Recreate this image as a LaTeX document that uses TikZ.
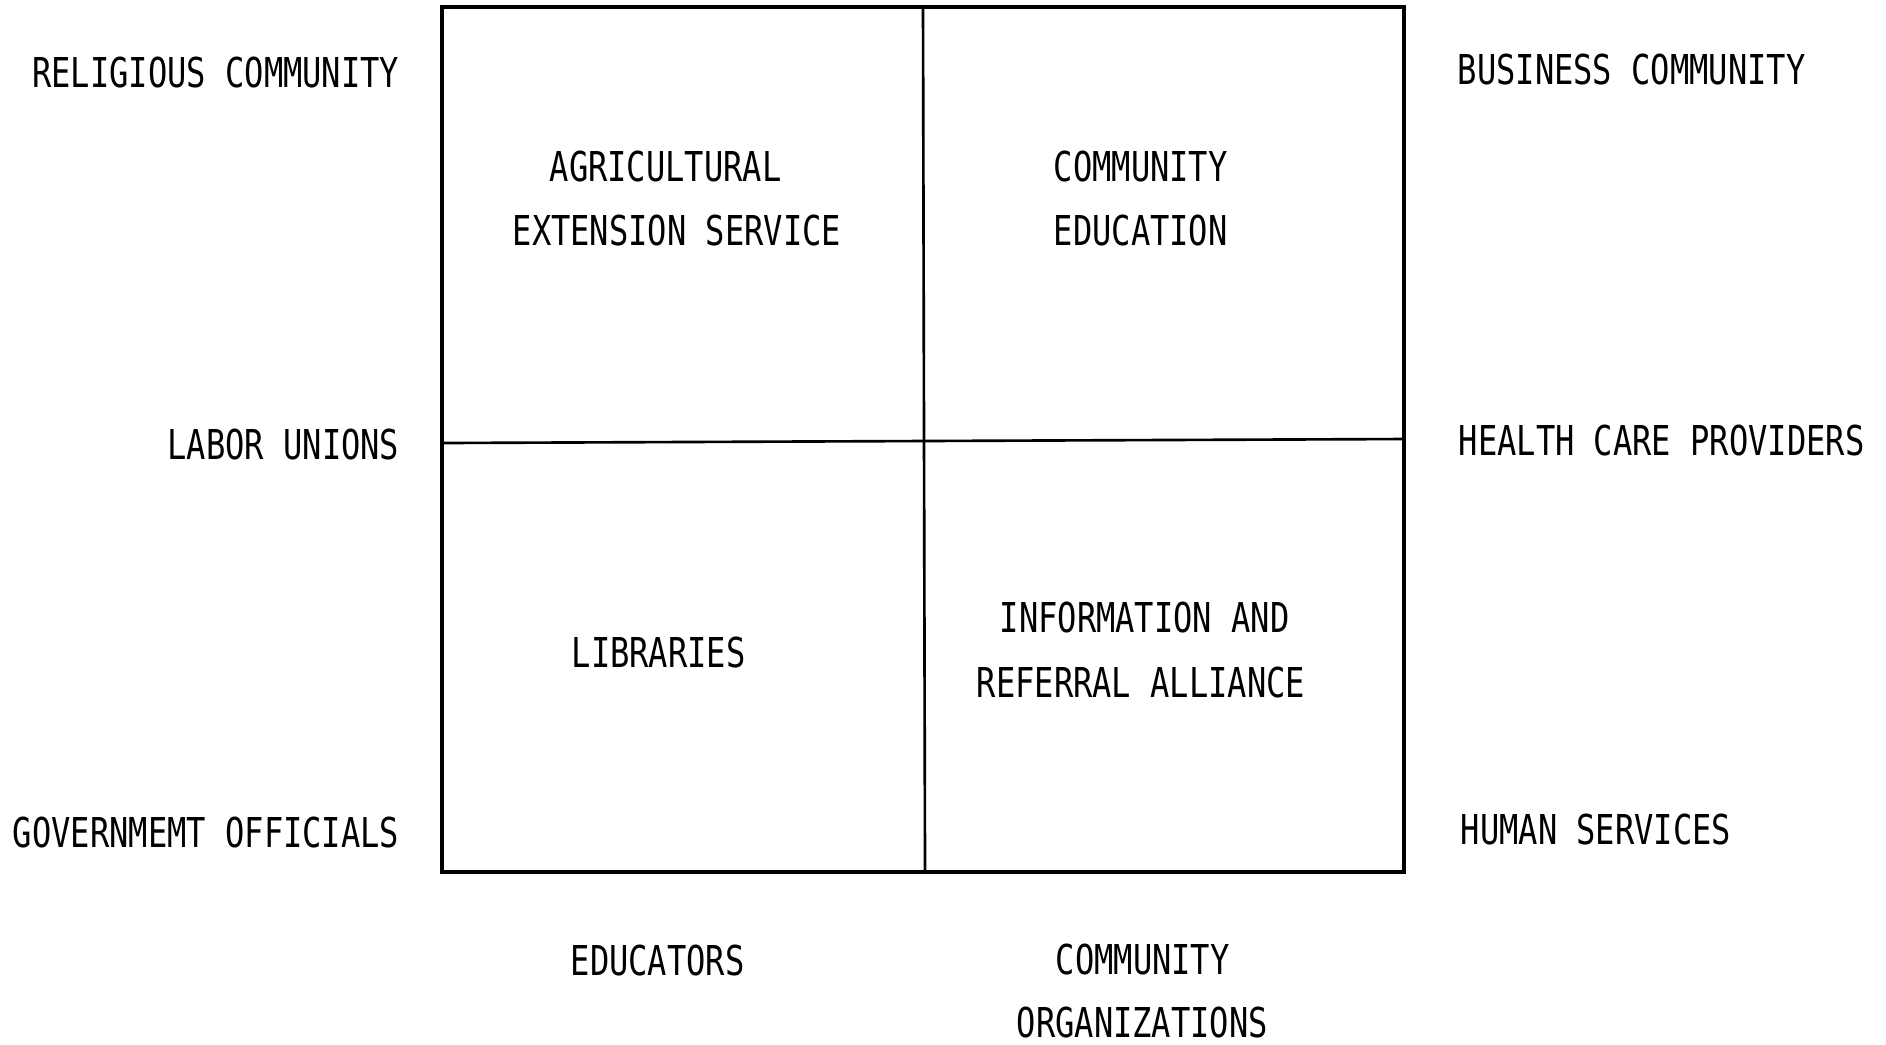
\documentclass[tikz,border=0pt]{standalone}
\usepackage{fontspec}
% condensed typewriter-style lettering
\newfontfamily\typewr[FakeStretch=0.78]{DejaVu Sans Mono}
\begin{document}
\begin{tikzpicture}[x=0.01cm,y=-0.01cm,
  lbl/.style={inner sep=0pt, font=\typewr\fontsize{11.7}{14}\selectfont},
  frame/.style={line width=1.05pt},
  divider/.style={line width=0.75pt}]
\useasboundingbox (0,0) rectangle (1886,1044);

% four-cell grid
\coordinate (nw) at (442,7);
\coordinate (se) at (1404,872);
\coordinate (ntop) at (923,7);
\coordinate (nbot) at (925,872);
\coordinate (wmid) at (442,443);
\coordinate (emid) at (1404,439);
\draw[frame] (nw) rectangle (se);
\draw[divider] (ntop) -- (nbot);
\draw[divider] (wmid) -- (emid);

% cell contents
\node[lbl, anchor=base west] (agri1) at (549,181) {AGRICULTURAL};
\node[lbl, anchor=base west] (agri2) at (512,245) {EXTENSION SERVICE};
\node[lbl, anchor=base west] (comed1) at (1053,181) {COMMUNITY};
\node[lbl, anchor=base west] (comed2) at (1053,245) {EDUCATION};
\node[lbl, anchor=base west] (lib) at (571,667) {LIBRARIES};
\node[lbl, anchor=base west] (ir1) at (999,632) {INFORMATION AND};
\node[lbl, anchor=base west] (ir2) at (976,697) {REFERRAL ALLIANCE};

% groups on the left
\node[lbl, anchor=base east] (relig) at (400,87) {RELIGIOUS COMMUNITY};
\node[lbl, anchor=base east] (labor) at (400,459) {LABOR UNIONS};
\node[lbl, anchor=base east] (govt) at (400,847) {GOVERNMEMT OFFICIALS};

% groups on the right
\node[lbl, anchor=base west] (business) at (1457,84) {BUSINESS COMMUNITY};
\node[lbl, anchor=base west] (health) at (1458,455) {HEALTH CARE PROVIDERS};
\node[lbl, anchor=base west] (human) at (1460,844) {HUMAN SERVICES};

% groups below
\node[lbl, anchor=base west] (educ) at (570,975) {EDUCATORS};
\node[lbl, anchor=base west] (corg1) at (1055,974) {COMMUNITY};
\node[lbl, anchor=base west] (corg2) at (1016,1037) {ORGANIZATIONS};
\end{tikzpicture}
\end{document}
